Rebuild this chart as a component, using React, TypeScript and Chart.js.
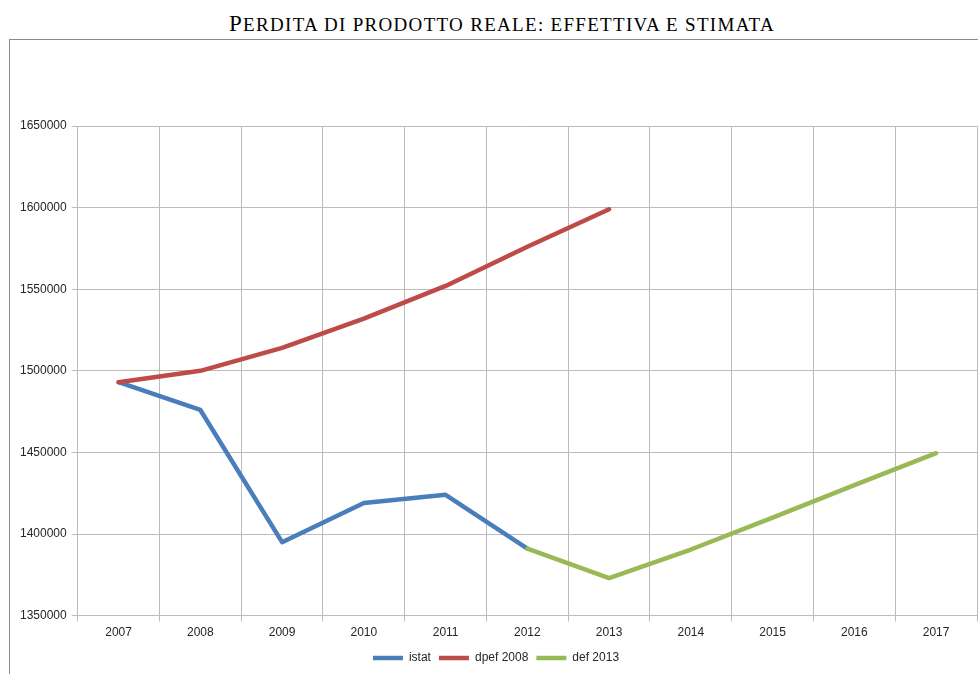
import React, { useEffect, useRef } from "react";
import { Chart, registerables } from "chart.js";

Chart.register(...registerables);

const years = ["2007", "2008", "2009", "2010", "2011", "2012", "2013", "2014", "2015", "2016", "2017"];
const istat = [1493000, 1476000, 1395000, 1419000, 1424000, 1391000, null, null, null, null, null];
const dpef2008 = [1493000, 1500000, 1514000, 1532000, 1552000, 1576000, 1599000, null, null, null, null];
const def2013 = [null, null, null, null, null, 1391000, 1373000, 1390500, 1410000, 1430000, 1449500];
const seriesNames = ["istat", "dpef 2008", "def 2013"];
const yMin = 1350000;
const yMax = 1650000;
const yStep = 50000;

const titleFirst = "P";
const titleRest = "ERDITA DI PRODOTTO REALE: EFFETTIVA E STIMATA";

export default function App() {
  const ref = useRef<HTMLCanvasElement | null>(null);

  useEffect(() => {
    if (!ref.current) return;
    const gridColor = "#bcbcbc";
    const font = { family: "'Liberation Sans', Arial, sans-serif", size: 12 };
    const chart = new Chart(ref.current, {
      type: "line",
      data: {
        labels: years,
        datasets: [
          {
            label: seriesNames[0],
            data: istat,
            borderColor: "#4a7ebb",
            backgroundColor: "#4a7ebb",
            order: 3,
          },
          {
            label: seriesNames[1],
            data: dpef2008,
            borderColor: "#be4b48",
            backgroundColor: "#be4b48",
            order: 2,
          },
          {
            label: seriesNames[2],
            data: def2013,
            borderColor: "#98b954",
            backgroundColor: "#98b954",
            order: 1,
          },
        ].map((d) => ({
          ...d,
          borderWidth: 4.5,
          pointRadius: 0,
          pointHoverRadius: 0,
          tension: 0,
          spanGaps: false,
          borderJoinStyle: "round" as const,
          borderCapStyle: "round" as const,
          fill: false,
        })),
      },
      options: {
        animation: false,
        responsive: false,
        maintainAspectRatio: false,
        layout: { padding: { left: 5, right: 1, top: 86, bottom: 0 } },
        plugins: {
          title: { display: false },
          tooltip: { enabled: false },
          legend: {
            position: "bottom",
            labels: {
              usePointStyle: true,
              pointStyle: "line",
              pointStyleWidth: 30,
              boxHeight: 12,
              padding: 8,
              color: "#262626",
              font,
              sort: (a: any, b: any) => a.datasetIndex - b.datasetIndex,
            },
          },
        },
        scales: {
          x: {
            offset: true,
            grid: {
              offset: true,
              color: gridColor,
              lineWidth: 1,
              tickLength: 6,
            },
            border: { color: gridColor, width: 1 },
            ticks: { color: "#262626", font, padding: 4, maxRotation: 0 },
          },
          y: {
            min: yMin,
            max: yMax,
            grid: { color: gridColor, lineWidth: 1, tickLength: 6 },
            border: { color: gridColor, width: 1 },
            ticks: {
              stepSize: yStep,
              color: "#262626",
              font,
              padding: 5,
              callback: (v: any) => String(v),
            },
          },
        },
      },
    });
    return () => chart.destroy();
  }, []);

  return (
    <div style={{ position: "absolute", left: 0, top: 0, width: 978, height: 674, overflow: "hidden", background: "#fff" }}>
      <div
        style={{
          position: "absolute",
          left: 0,
          width: 1004,
          top: 10,
          textAlign: "center",
          fontFamily: "'Liberation Serif', 'Times New Roman', serif",
          color: "#000",
          lineHeight: "28px",
          whiteSpace: "nowrap",
        }}
      >
        <span style={{ fontSize: 23, letterSpacing: 1.3 }}>{titleFirst}</span>
        <span style={{ fontSize: 19, letterSpacing: 1.3 }}>{titleRest}</span>
      </div>
      <div
        style={{
          position: "absolute",
          left: 9,
          top: 39,
          width: 969,
          height: 635,
          borderTop: "1px solid #8a8a8a",
          borderLeft: "1px solid #8a8a8a",
          boxSizing: "border-box",
        }}
      />
      <canvas ref={ref} width={968} height={634} style={{ position: "absolute", left: 10, top: 40, width: 968, height: 634 }} />
    </div>
  );
}
